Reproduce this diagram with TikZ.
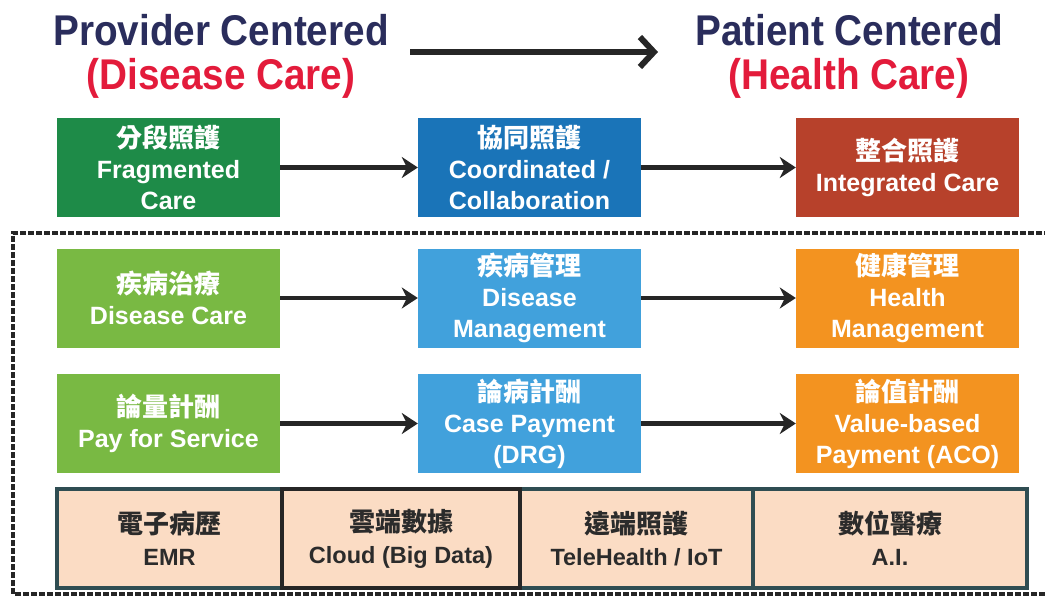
\documentclass[tikz,border=0pt]{standalone}
\usepackage{fontspec}
\setmainfont{Liberation Sans}
\newfontfamily\titlefont[FakeStretch=0.9]{Liberation Sans}
\newfontfamily\cjk{Noto Sans CJK TC}
\usetikzlibrary{arrows.meta}
\definecolor{navy}{HTML}{2A2D5C}
\definecolor{crim}{HTML}{E31B3B}
\definecolor{gA}{HTML}{1E8B48}
\definecolor{bA}{HTML}{1A74B8}
\definecolor{rA}{HTML}{B7412B}
\definecolor{gB}{HTML}{79B943}
\definecolor{bB}{HTML}{41A1DC}
\definecolor{oB}{HTML}{F39320}
\definecolor{peach}{HTML}{FBDCC4}
\definecolor{teal}{HTML}{2F4D52}
\definecolor{tabtxt}{HTML}{2B2B2B}
\newcommand{\boxcjk}[1]{{\cjk\bfseries\fontsize{26}{31}\selectfont #1}}
\newcommand{\tabcjk}[1]{{\cjk\bfseries\fontsize{26}{32}\selectfont #1}}
\tikzset{
  ttl/.style={font=\titlefont\bfseries\fontsize{43}{48}\selectfont, align=center, inner sep=0pt},
  cbox/.style={minimum width=223pt, minimum height=99pt, inner sep=0pt, align=center, text=white,
    font=\bfseries\fontsize{25}{31}\selectfont},
  conn/.style={line width=4.5pt, draw=black!85, -{Stealth[length=16pt,width=21pt]}},
  bigconn/.style={line width=6pt, draw=black!85, -{Straight Barb[length=14pt,width=30pt,line width=6pt]}},
  tcell/.style={fill=peach, draw=teal, line width=3.5pt, minimum height=99pt, inner sep=0pt, align=center,
    text=tabtxt, font=\bfseries\fontsize{23.5}{32}\selectfont},
  frame/.style={line width=3.5pt, draw=black!85, dash pattern=on 6pt off 2pt}
}
\begin{document}
\begin{tikzpicture}[x=1pt,y=-1pt]
\useasboundingbox (0,0) rectangle (1045,599);
% titles
\node[ttl, text=navy] (t1) at (221,30) {Provider Centered};
\node[ttl, text=crim] (t2) at (221,78) {(Disease Care)};
\node[ttl, text=navy] (t3) at (849,30) {Patient Centered};
\node[ttl, text=crim] (t4) at (849,78) {(Health Care)};
\coordinate (ta) at (410,52);
\coordinate (tb) at (658,52);
\draw[bigconn] (ta) -- (tb);
% dashed frame
\coordinate (f1) at (1050,233);
\coordinate (f2) at (13,233);
\coordinate (f3) at (13,594);
\coordinate (f4) at (1050,594);
\draw[frame] (f1) -- (f2) -- (f3) -- (f4);
% row 1
\node[cbox, fill=gA] (a1) at (168.5,167.5) {\boxcjk{分段照護}\\Fragmented\\Care};
\node[cbox, fill=bA] (a2) at (529.5,167.5) {\boxcjk{協同照護}\\Coordinated /\\Collaboration};
\node[cbox, fill=rA] (a3) at (907.5,167.5) {\boxcjk{整合照護}\\Integrated Care};
% row 2
\node[cbox, fill=gB] (b1) at (168.5,298) {\boxcjk{疾病治療}\\Disease Care};
\node[cbox, fill=bB] (b2) at (529.5,298) {\boxcjk{疾病管理}\\Disease\\Management};
\node[cbox, fill=oB] (b3) at (907.5,298) {\boxcjk{健康管理}\\Health\\Management};
% row 3
\node[cbox, fill=gB] (c1) at (168.5,423.5) {\boxcjk{論量計酬}\\Pay for Service};
\node[cbox, fill=bB] (c2) at (529.5,423.5) {\boxcjk{論病計酬}\\Case Payment\\(DRG)};
\node[cbox, fill=oB] (c3) at (907.5,423.5) {\boxcjk{論值計酬}\\Value-based\\Payment (ACO)};
% connectors
\draw[conn] (a1) -- (a2);
\draw[conn] (a2) -- (a3);
\draw[conn] (b1) -- (b2);
\draw[conn] (b2) -- (b3);
\draw[conn] (c1) -- (c2);
\draw[conn] (c2) -- (c3);
% table
\node[tcell, minimum width=225pt] (d1) at (169.5,538.5) {\tabcjk{電子病歷}\\EMR};
\node[tcell, minimum width=233pt] (d3) at (636.5,538.5) {\tabcjk{遠端照護}\\TeleHealth / IoT};
\node[tcell, minimum width=274pt] (d4) at (890,538.5) {\tabcjk{數位醫療}\\A.I.};
\node[tcell, minimum width=238pt, draw=black!85] (d2) at (401,538.5) {\tabcjk{雲端數據}\\Cloud (Big Data)};
\end{tikzpicture}
\end{document}
